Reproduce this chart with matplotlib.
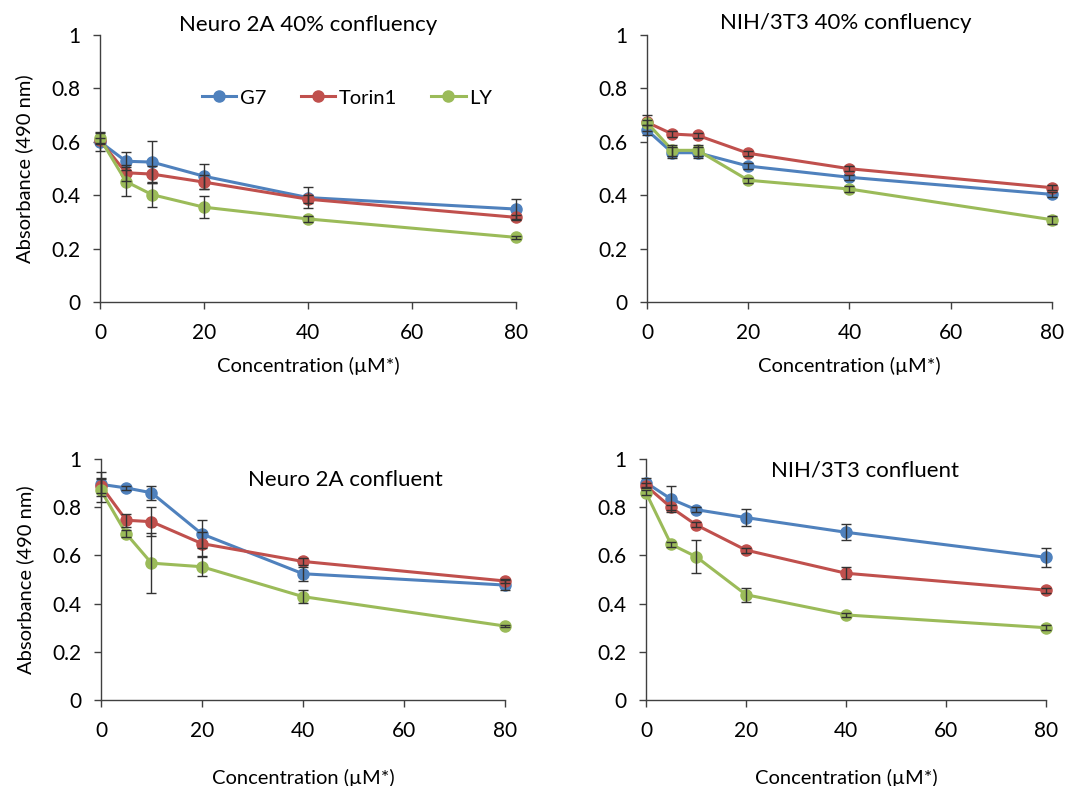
import matplotlib
matplotlib.use("Agg")
import matplotlib.pyplot as plt

plt.rcParams['font.family'] = ['Lato', 'DejaVu Sans']

conc = [0, 5, 10, 20, 40, 80]
series_names = ["G7", "Torin1", "LY"]
colors = ["#4F81BD", "#C0504D", "#9BBB59"]

# Neuro 2A 40% confluency
n2a40_g7 = [0.600, 0.527, 0.524, 0.471, 0.391, 0.348]
n2a40_torin = [0.605, 0.484, 0.479, 0.449, 0.385, 0.317]
n2a40_ly = [0.613, 0.451, 0.402, 0.355, 0.311, 0.242]
n2a40_g7_err = [0.035, 0.034, 0.08, 0.047, 0.04, 0.038]
n2a40_torin_err = [0.01, 0.03, 0.03, 0.026, 0.015, 0.01]
n2a40_ly_err = [0.02, 0.053, 0.045, 0.042, 0.01, 0.005]

# NIH/3T3 40% confluency
nih40_g7 = [0.644, 0.559, 0.559, 0.509, 0.467, 0.403]
nih40_torin = [0.673, 0.629, 0.624, 0.557, 0.499, 0.428]
nih40_ly = [0.672, 0.568, 0.568, 0.456, 0.423, 0.308]
nih40_g7_err = [0.02, 0.02, 0.02, 0.01, 0.01, 0.01]
nih40_torin_err = [0.01, 0.01, 0.01, 0.01, 0.01, 0.01]
nih40_ly_err = [0.03, 0.02, 0.02, 0.01, 0.01, 0.015]

# Neuro 2A confluent
n2a_g7 = [0.895, 0.880, 0.860, 0.689, 0.524, 0.477]
n2a_torin = [0.889, 0.746, 0.740, 0.649, 0.575, 0.494]
n2a_ly = [0.870, 0.690, 0.568, 0.553, 0.429, 0.307]
n2a_g7_err = [0.05, 0.01, 0.03, 0.06, 0.03, 0.02]
n2a_torin_err = [0.03, 0.027, 0.06, 0.05, 0.015, 0.01]
n2a_ly_err = [0.05, 0.015, 0.125, 0.04, 0.028, 0.005]

# NIH/3T3 confluent
nih_g7 = [0.902, 0.834, 0.790, 0.757, 0.696, 0.592]
nih_torin = [0.889, 0.799, 0.727, 0.622, 0.526, 0.456]
nih_ly = [0.860, 0.646, 0.595, 0.437, 0.353, 0.300]
nih_g7_err = [0.02, 0.054, 0.01, 0.036, 0.033, 0.04]
nih_torin_err = [0.01, 0.01, 0.01, 0.01, 0.024, 0.01]
nih_ly_err = [0.01, 0.01, 0.069, 0.029, 0.01, 0.01]

panels = [
    dict(title="Neuro 2A 40% confluency", vals=[n2a40_g7, n2a40_torin, n2a40_ly],
         errs=[n2a40_g7_err, n2a40_torin_err, n2a40_ly_err],
         rect=[0.0939, 0.6158, 0.3906, 0.3397], tpos=(0.5, 1.037), legend=True,
         ylabel=True, xlpad=10),
    dict(title="NIH/3T3 40% confluency", vals=[nih40_g7, nih40_torin, nih40_ly],
         errs=[nih40_g7_err, nih40_torin_err, nih40_ly_err],
         rect=[0.6075, 0.6158, 0.3803, 0.3397], tpos=(0.49, 1.045), legend=False,
         ylabel=False, xlpad=10),
    dict(title="Neuro 2A confluent", vals=[n2a_g7, n2a_torin, n2a_ly],
         errs=[n2a_g7_err, n2a_torin_err, n2a_ly_err],
         rect=[0.0948, 0.1094, 0.3793, 0.3066], tpos=(0.606, 0.913), legend=False,
         ylabel=True, xlpad=20),
    dict(title="NIH/3T3 confluent", vals=[nih_g7, nih_torin, nih_ly],
         errs=[nih_g7_err, nih_torin_err, nih_ly_err],
         rect=[0.6066, 0.1094, 0.3756, 0.3066], tpos=(0.547, 0.954), legend=False,
         ylabel=False, xlpad=20),
]

fig = plt.figure(figsize=(10.65, 7.86), dpi=100)

for p in panels:
    ax = fig.add_axes(p["rect"])
    handles = []
    for name, col, v, e in zip(series_names, colors, p["vals"], p["errs"]):
        h, = ax.plot(conc, v, color=col, lw=2.2, marker='o', markersize=8,
                     markeredgecolor=col, label=name, clip_on=False, zorder=3)
        handles.append(h)
        ax.errorbar(conc, v, yerr=e, fmt='none', ecolor='#333333', elinewidth=1.0,
                    capsize=3.5, capthick=1.0, clip_on=False, zorder=4)
    ax.set_xlim(0, 80)
    ax.set_ylim(0, 1)
    ax.set_xticks([0, 20, 40, 60, 80])
    ax.set_yticks([0, 0.2, 0.4, 0.6, 0.8, 1.0])
    ax.set_yticklabels(["0", "0.2", "0.4", "0.6", "0.8", "1"])
    for s in ["top", "right"]:
        ax.spines[s].set_visible(False)
    for s in ["left", "bottom"]:
        ax.spines[s].set_color("#404040")
        ax.spines[s].set_linewidth(1.0)
    ax.tick_params(direction='out', length=5, width=1.0, color="#404040",
                   labelsize=15)
    ax.tick_params(axis='x', pad=10)
    ax.tick_params(axis='y', pad=9)
    ax.set_xlabel("Concentration (\u00b5M*)", fontsize=14.5, labelpad=p["xlpad"])
    if p["ylabel"]:
        ax.set_ylabel("Absorbance (490 nm)", fontsize=14.5, labelpad=13)
    ax.text(p["tpos"][0], p["tpos"][1], p["title"], transform=ax.transAxes,
            ha='center', va='center', fontsize=16)
    if p["legend"]:
        ax.legend(handles=handles, loc='center', bbox_to_anchor=(0.594, 0.764),
                  ncol=3, frameon=False, fontsize=14.5, handlelength=1.7,
                  handletextpad=0.2, columnspacing=1.7)

fig.savefig("out.png", dpi=100)
